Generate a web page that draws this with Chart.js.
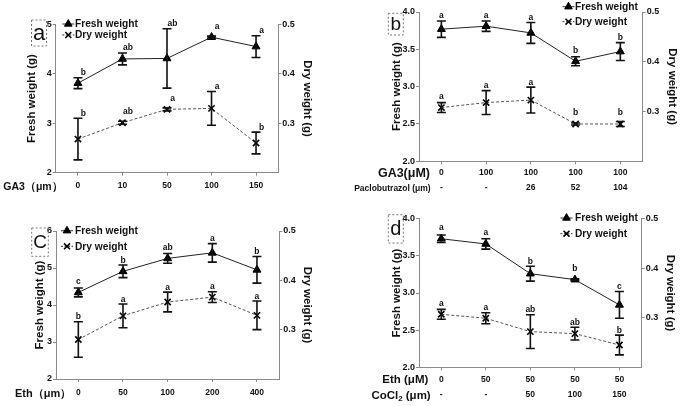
<!DOCTYPE html>
<html><head><meta charset="utf-8">
<script src="https://cdn.jsdelivr.net/npm/chart.js@4/dist/chart.umd.min.js"></script>
<style>
html,body{margin:0;padding:0;background:#fff;}
#wrap{position:relative;width:680px;height:406px;overflow:hidden;background:#fff}
canvas{position:absolute}
</style></head><body>
<div id="wrap">
<canvas id="pa" width="340" height="203" style="left:0;top:0;width:340px;height:203px"></canvas>
<canvas id="pb" width="340" height="203" style="left:340px;top:0;width:340px;height:203px"></canvas>
<canvas id="pc" width="340" height="203" style="left:0;top:203px;width:340px;height:203px"></canvas>
<canvas id="pd" width="340" height="203" style="left:340px;top:203px;width:340px;height:203px"></canvas>
</div>
<script>
// ---------- DATA ----------
// Panel a: GA3 (μm)
const labelsA = ['0','10','50','100','150'];
const freshA = [3.81, 4.30, 4.31, 4.74, 4.55];
const freshErrA = [0.11, 0.12, 0.60, 0.02, 0.22];
const dryA = [0.268, 0.301, 0.328, 0.330, 0.260];
const dryErrA = [0.042, 0.003, 0.003, 0.034, 0.022];
const freshSigA = ['b','ab','ab','a','a'];
const drySigA = ['b','ab','a','a','b'];

// Panel b: GA3 (μM) + Paclobutrazol (μm)
const labelsB = [['0','-'],['100','-'],['100','26'],['100','52'],['100','104']];
const freshB = [3.77, 3.81, 3.72, 3.34, 3.47];
const freshErrB = [0.11, 0.07, 0.14, 0.06, 0.12];
const dryB = [0.308, 0.318, 0.323, 0.275, 0.275];
const dryErrB = [0.010, 0.024, 0.026, 0.002, 0.005];
const freshSigB = ['a','a','a','b','b'];
const drySigB = ['a','a','a','b','b'];

// Panel c: Eth (μm)
const labelsC = ['0','50','100','200','400'];
const freshC = [4.34, 4.91, 5.26, 5.41, 4.95];
const freshErrC = [0.12, 0.17, 0.13, 0.25, 0.36];
const dryC = [0.280, 0.328, 0.356, 0.366, 0.329];
const dryErrC = [0.036, 0.024, 0.020, 0.011, 0.029];
const freshSigC = ['c','b','ab','a','b'];
const drySigC = ['b','a','a','a','a'];

// Panel d: Eth (μM) + CoCl2 (μm)
const labelsD = [['0','-'],['50','-'],['50','50'],['50','100'],['50','150']];
const freshD = [3.73, 3.66, 3.26, 3.18, 2.84];
const freshErrD = [0.05, 0.07, 0.10, 0.01, 0.18];
const dryD = [0.307, 0.299, 0.272, 0.268, 0.245];
const dryErrD = [0.010, 0.011, 0.034, 0.013, 0.020];
const freshSigD = ['a','a','b','b','c'];
const drySigD = ['a','a','ab','ab','b'];

// ---------- RENDERING ----------
const FONT = "'Liberation Sans', Arial, Helvetica, sans-serif";
const AX = '#8a8a8a';
const TXT = '#111';

const errorBars = {
  id: 'errorBars',
  afterDatasetsDraw(chart) {
    const ctx = chart.ctx;
    chart.data.datasets.forEach((ds, i) => {
      const meta = chart.getDatasetMeta(i);
      const ys = chart.scales[ds.yAxisID];
      ctx.save();
      ctx.strokeStyle = '#111';
      ctx.lineWidth = 1.6;
      meta.data.forEach((pt, j) => {
        const v = ds.data[j], e = ds.errors[j];
        if (!e) return;
        const y1 = ys.getPixelForValue(v + e), y2 = ys.getPixelForValue(v - e);
        const x = pt.x;
        ctx.beginPath();
        ctx.moveTo(x, y1); ctx.lineTo(x, y2);
        ctx.moveTo(x - 4.5, y1); ctx.lineTo(x + 4.5, y1);
        ctx.moveTo(x - 4.5, y2); ctx.lineTo(x + 4.5, y2);
        ctx.stroke();
      });
      ctx.restore();
    });
  }
};

function makeDecor(P) {
  return {
    id: 'decor',
    afterDatasetsDraw(chart) {
      const ctx = chart.ctx;
      // significance letters
      ctx.save();
      ctx.font = 'bold 8.5px ' + FONT;
      ctx.fillStyle = TXT;
      ctx.textAlign = 'center';
      ctx.textBaseline = 'alphabetic';
      chart.data.datasets.forEach((ds, i) => {
        const meta = chart.getDatasetMeta(i);
        const ys = chart.scales[ds.yAxisID];
        meta.data.forEach((pt, j) => {
          const top = Math.min(ys.getPixelForValue(ds.data[j] + ds.errors[j]), pt.y - 6);
          ctx.fillText(ds.sig[j], pt.x + P.L.sigDx, top - 2.5);
        });
      });
      ctx.restore();
    },
    afterDraw(chart) {
      const ctx = chart.ctx;
      const D = P.D;
      ctx.save();
      // panel letter box
      ctx.strokeStyle = '#777';
      ctx.lineWidth = 1;
      ctx.setLineDash([2, 2]);
      ctx.strokeRect(D.box.x, D.box.y, D.box.w, D.box.h);
      ctx.setLineDash([]);
      ctx.fillStyle = '#111';
      ctx.font = D.box.size + 'px ' + FONT;
      ctx.textAlign = 'center';
      ctx.textBaseline = 'middle';
      ctx.fillText(D.box.letter, D.box.x + D.box.w / 2, D.box.y + D.box.h / 2 + 1);
      // legend
      const items = [
        {text: 'Fresh weight', style: 'triangle', r: 4.4, dash: [], y: D.leg.y1},
        {text: 'Dry weight', style: 'crossRot', r: 4.2, dash: [2, 1.5], y: D.leg.y2}
      ];
      items.forEach(it => {
        ctx.strokeStyle = '#333';
        ctx.lineWidth = 1;
        ctx.setLineDash(it.dash);
        ctx.beginPath();
        ctx.moveTo(D.leg.mx - 6, it.y); ctx.lineTo(D.leg.mx + 6, it.y);
        ctx.stroke();
        ctx.setLineDash([]);
        ctx.fillStyle = '#000';
        ctx.strokeStyle = '#000';
        ctx.lineWidth = it.style === 'crossRot' ? 1.6 : 1;
        Chart.helpers.drawPoint(ctx, {pointStyle: it.style, radius: it.r, rotation: 0, borderWidth: ctx.lineWidth}, D.leg.mx, it.y);
        ctx.fillStyle = TXT;
        ctx.font = 'bold ' + D.leg.size + 'px ' + FONT;
        ctx.textAlign = 'left';
        ctx.textBaseline = 'middle';
        ctx.fillText(it.text, D.leg.tx, it.y + 0.5);
      });
      // row labels of the x axis
      D.rows.forEach(r => {
        ctx.fillStyle = TXT;
        ctx.textBaseline = 'middle';
        if (r.sub) {
          const f1 = 'bold ' + r.size + 'px ' + FONT;
          const f2 = 'bold ' + (r.size * 0.68) + 'px ' + FONT;
          ctx.font = f1; const w1 = ctx.measureText(r.text).width; const w3 = ctx.measureText(r.after).width;
          ctx.font = f2; const w2 = ctx.measureText(r.sub).width;
          let x = r.x - (w1 + w2 + w3);
          ctx.textAlign = 'left';
          ctx.font = f1; ctx.fillText(r.text, x, r.y); x += w1;
          ctx.font = f2; ctx.fillText(r.sub, x, r.y + 3); x += w2;
          ctx.font = f1; ctx.fillText(r.after, x, r.y);
        } else {
          ctx.font = 'bold ' + r.size + 'px ' + FONT;
          ctx.textAlign = r.align;
          ctx.fillText(r.text, r.x, r.y);
        }
      });
      ctx.restore();
    }
  };
}

function panel(id, P) {
  const tickFont = {family: FONT, size: 9, weight: 'bold'};
  const titleFont = {family: FONT, size: 11.5, weight: 'bold'};
  new Chart(document.getElementById(id), {
    type: 'line',
    data: {
      labels: P.labels,
      datasets: [
        {label: 'Fresh weight', data: P.fresh, errors: P.freshErr, sig: P.freshSig, yAxisID: 'yL',
         borderColor: '#222', borderWidth: 1, pointStyle: 'triangle', pointRadius: 4.6,
         pointBackgroundColor: '#000', pointBorderColor: '#000', pointBorderWidth: 1, tension: 0, fill: false},
        {label: 'Dry weight', data: P.dry, errors: P.dryErr, sig: P.drySig, yAxisID: 'yR',
         borderColor: '#555', borderWidth: 1, borderDash: [3, 2], pointStyle: 'crossRot', pointRadius: 4.4,
         pointBackgroundColor: '#000', pointBorderColor: '#000', pointBorderWidth: 1.6, tension: 0, fill: false}
      ]
    },
    options: {
      responsive: false, animation: false, devicePixelRatio: 1,
      layout: {padding: {top: P.L.top, left: 0, right: 0, bottom: 0}},
      plugins: {legend: {display: false}, tooltip: {enabled: false}},
      scales: {
        x: {
          type: 'category', offset: true,
          grid: {display: true, drawOnChartArea: false, offset: false, tickLength: 3, color: AX},
          border: {display: true, color: AX},
          ticks: {font: {family: FONT, size: 8.5, weight: 'bold', lineHeight: P.L.xLine}, color: TXT,
                  padding: P.L.xPad, maxRotation: 0, autoSkip: false},
          afterFit: s => { s.height = 203 - P.L.bottom; }
        },
        yL: {
          position: 'left', min: P.yMin, max: P.yMax,
          ticks: {stepSize: P.yStep, callback: v => Number(v).toFixed(P.yDec), font: tickFont, color: TXT, padding: 1},
          grid: {display: true, drawOnChartArea: false, tickLength: 3, color: AX},
          border: {display: true, color: AX},
          title: {display: true, text: 'Fresh weight (g)', font: titleFont, color: TXT, padding: {top: P.L.ltPad, bottom: 0}},
          afterFit: s => { s.width = P.L.left; }
        },
        yR: {
          position: 'right', min: 0.2, max: 0.5,
          ticks: {stepSize: 0.1, callback: v => (v < 0.25 ? null : Number(v).toFixed(1)), font: tickFont, color: TXT, padding: 1},
          grid: {display: true, drawOnChartArea: false, tickLength: 3, color: AX},
          border: {display: true, color: AX},
          title: {display: true, text: 'Dry weight (g)', font: titleFont, color: TXT, padding: {top: P.L.rtPad, bottom: 0}},
          afterFit: s => { s.width = 340 - P.L.right; }
        }
      }
    },
    plugins: [errorBars, makeDecor(P)]
  });
}

panel('pa', {
  labels: labelsA, fresh: freshA, freshErr: freshErrA, dry: dryA, dryErr: dryErrA, freshSig: freshSigA, drySig: drySigA,
  yMin: 2, yMax: 5, yStep: 1, yDec: 0,
  L: {left: 55.7, right: 278.3, top: 24.3, bottom: 172.7, xLine: 1.2, xPad: 5.2, ltPad: 24.8, rtPad: 26.4, sigDx: 5.5},
  D: {box: {x: 31.5, y: 20, w: 15, h: 26, letter: 'a', size: 22},
      leg: {mx: 68.3, tx: 75, y1: 24, y2: 35, size: 10.2},
      rows: [{text: 'GA3（μm）', x: 3.3, y: 187, align: 'left', size: 10.5}]}
});
panel('pb', {
  labels: labelsB, fresh: freshB, freshErr: freshErrB, dry: dryB, dryErr: dryErrB, freshSig: freshSigB, drySig: drySigB,
  yMin: 2, yMax: 4, yStep: 0.5, yDec: 1,
  L: {left: 79, right: 302.7, top: 12, bottom: 161.3, xLine: '15px', xPad: 0.5, ltPad: 49.8, rtPad: 1.4, sigDx: 0},
  D: {box: {x: 48.3, y: 13.3, w: 15, h: 21.7, letter: 'b', size: 19},
      leg: {mx: 228.5, tx: 235, y1: 6.7, y2: 21.7, size: 10.2},
      rows: [{text: 'GA3(μM)', x: 90, y: 173.3, align: 'right', size: 12.5},
             {text: 'Paclobutrazol (μm)', x: 90.7, y: 188.3, align: 'right', size: 8.5}]}
});
panel('pc', {
  labels: labelsC, fresh: freshC, freshErr: freshErrC, dry: dryC, dryErr: dryErrC, freshSig: freshSigC, drySig: drySigC,
  yMin: 2, yMax: 6, yStep: 1, yDec: 0,
  L: {left: 56, right: 279.3, top: 28, bottom: 176, xLine: 1.2, xPad: 5.9, ltPad: 33.1, rtPad: 26.4, sigDx: 0},
  D: {box: {x: 31.7, y: 25, w: 16.6, h: 28.3, letter: 'C', size: 19},
      leg: {mx: 67, tx: 75, y1: 27.7, y2: 43.3, size: 10.2},
      rows: [{text: 'Eth（μm）', x: 15, y: 191, align: 'left', size: 11}]}
});
panel('pd', {
  labels: labelsD, fresh: freshD, freshErr: freshErrD, dry: dryD, dryErr: dryErrD, freshSig: freshSigD, drySig: drySigD,
  yMin: 2, yMax: 4, yStep: 0.5, yDec: 1,
  L: {left: 79, right: 301.7, top: 15.7, bottom: 164.3, xLine: '15px', xPad: 1.5, ltPad: 50.4, rtPad: 3.1, sigDx: 0},
  D: {box: {x: 48.3, y: 11.7, w: 15, h: 28.3, letter: 'd', size: 20},
      leg: {mx: 226.5, tx: 235, y1: 15, y2: 30.7, size: 10.2},
      rows: [{text: 'Eth (μM)', x: 88.3, y: 177.3, align: 'right', size: 11.5},
             {text: 'CoCl', sub: '2', after: ' (μm)', x: 90.7, y: 192.7, align: 'right', size: 11.5}]}
});
</script>
</body></html>
